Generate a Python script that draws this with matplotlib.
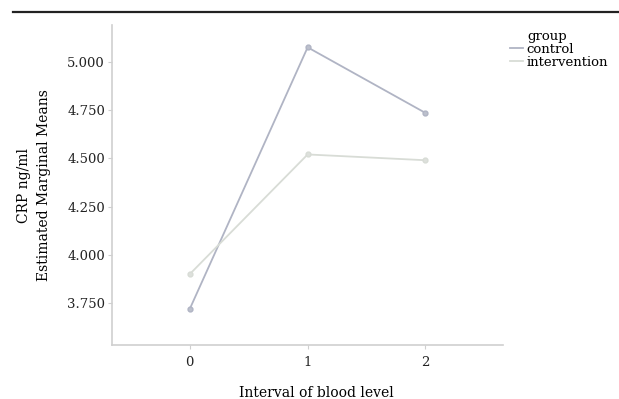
import matplotlib
matplotlib.use("Agg")
import matplotlib.pyplot as plt
from matplotlib.lines import Line2D

# data
intervals = [0, 1, 2]
control = [3.72, 5.075, 4.735]
intervention = [3.90, 4.52, 4.49]
yticks = [3.75, 4.0, 4.25, 4.5, 4.75, 5.0]

plt.rcParams['font.family'] = 'DejaVu Serif'

fig = plt.figure(figsize=(6.19, 3.99), dpi=100)
ax = fig.add_axes([0.181, 0.135, 0.632, 0.802])

ax.plot(intervals, control, color='#b0b4c4', lw=1.3, marker='o', ms=3.5,
        mfc='#bcc0cc', mec='#b0b4c4', label='control')
ax.plot(intervals, intervention, color='#d8dcd6', lw=1.3, marker='o', ms=3.5,
        mfc='#dde0dc', mec='#d8dcd6', label='intervention')

ax.set_xlim(-0.66, 2.66)
ax.set_ylim(3.532, 5.19)
ax.set_xticks(intervals)
ax.set_yticks(yticks)
ax.set_yticklabels(['%.3f' % v for v in yticks])

for s in ['top', 'right']:
    ax.spines[s].set_visible(False)
for s in ['left', 'bottom']:
    ax.spines[s].set_color('#cfcfcf')
    ax.spines[s].set_linewidth(1.2)
ax.tick_params(colors='#cfcfcf', labelcolor='#222222', labelsize=9.5,
               length=3, pad=2)
ax.tick_params(axis='x', pad=5)

ax.set_xlabel('Interval of blood level', fontsize=10, va='center')
ax.xaxis.set_label_coords(0.523, -0.15)
ax.set_ylabel('CRP ng/ml\nEstimated Marginal Means', fontsize=10,
              linespacing=1.5, va='center')
ax.yaxis.set_label_coords(-0.2, 0.5)

# legend: title drawn separately so it lines up with the entry labels
leg = ax.legend(loc='upper left', bbox_to_anchor=(1.018, 0.945),
                frameon=False, fontsize=9.5,
                handlelength=1.0, handletextpad=0.25, labelspacing=0.0,
                borderpad=0, borderaxespad=0, markerscale=0)
ax.text(1.062, 0.943, 'group', transform=ax.transAxes, fontsize=9.5,
        ha='left', va='bottom')

# rule across the top of the figure
fig.add_artist(Line2D([0.021, 1.0], [0.97, 0.97], color='#222222', lw=1.6,
                      transform=fig.transFigure))

fig.savefig('out.png', dpi=100)
